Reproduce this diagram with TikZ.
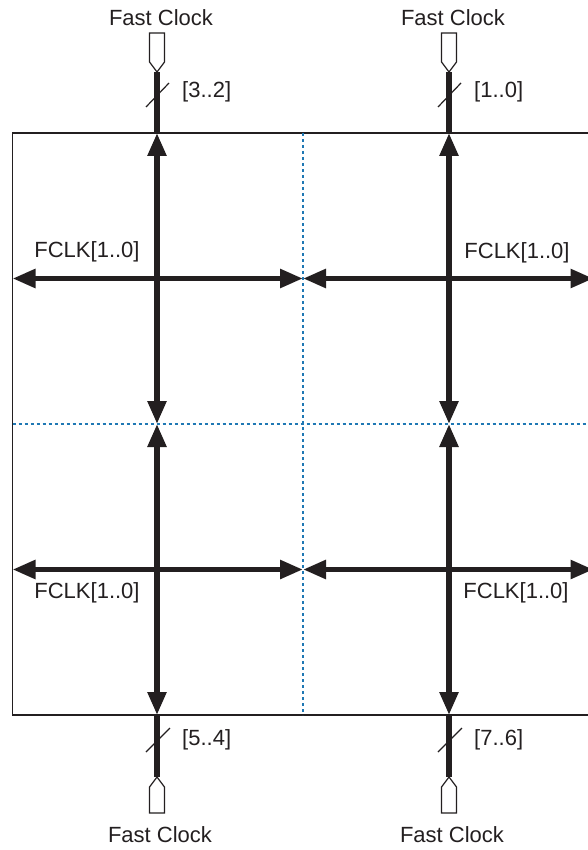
\documentclass[tikz,border=0pt]{standalone}
\usepackage{fontspec}
\setmainfont{Liberation Sans}
\usepackage{tikz}
\usetikzlibrary{arrows.meta}
\definecolor{FclkInk}{HTML}{231F20}
\definecolor{FclkBlue}{HTML}{1F78B4}

\tikzset{
  bus/.style={line width=5.5pt,draw=FclkInk},
  busarrow/.style={bus,{Triangle[length=23pt,width=18pt]}-{Triangle[length=23pt,width=18pt]}},
  divider/.style={draw=FclkBlue,line width=1.3pt,dash pattern=on 3pt off 3pt},
  pinbox/.style={draw=FclkInk,fill=white,line width=1.2pt,line join=miter},
  tick/.style={draw=FclkInk,line width=1.2pt},
  lbl/.style={font=\fontsize{22}{26}\selectfont,text=FclkInk,inner sep=0pt}
}

\begin{document}
\begin{tikzpicture}[x=1pt,y=-1pt]
  \clip (0,0) rectangle (588,850);
  % outline of the device and its quadrants
  \coordinate (nw) at (12.5,133);
  \coordinate (se) at (593.5,715);
  \coordinate (n) at (303,133);
  \coordinate (s) at (303,715);
  \coordinate (w) at (12.5,424);
  \coordinate (e) at (593.5,424);
  \draw[FclkInk,line width=1.5pt] (nw) rectangle (se);
  \draw[divider] (n)--(s);
  \draw[divider] (w)--(e);

  % fast clock columns
  \foreach \x/\nm/\hi/\lo in {157/L/{[3..2]}/{[5..4]},449/R/{[1..0]}/{[7..6]}} {
    \coordinate (\nm top) at (\x,133);
    \coordinate (\nm mid) at (\x,424);
    \coordinate (\nm bot) at (\x,715);
    \coordinate (\nm pinN) at (\x,72);
    \coordinate (\nm pinS) at (\x,777);
    \draw[busarrow] (\nm top)--(\nm mid);
    \draw[busarrow] (\nm mid)--(\nm bot);
    \draw[bus] (\nm pinN)--(\nm top);
    \draw[bus] (\nm bot)--(\nm pinS);
    \draw[pinbox] (\nm pinN) -- ++(-7.5,-10) -- ++(0,-29) -- ++(15,0) -- ++(0,29) -- cycle;
    \draw[pinbox] (\nm pinS) -- ++(-7.5,10) -- ++(0,26) -- ++(15,0) -- ++(0,-26) -- cycle;
    \draw[tick] (\x-11,107)--(\x+12,83);
    \draw[tick] (\x-11,752)--(\x+13,728);
    \node[lbl] (\nm clkN) at (\x+4,18) {Fast Clock};
    \node[lbl] (\nm clkS) at (\x+3,835) {Fast Clock};
    \node[lbl,anchor=west] (\nm bitsN) at (\x+25,92) {\hi};
    \node[lbl,anchor=west] (\nm bitsS) at (\x+25,740) {\lo};
  }

  % fclk rows
  \foreach \y/\nm in {278.5/U,569.5/D} {
    \coordinate (\nm west) at (12.5,\y);
    \coordinate (\nm mid) at (303,\y);
    \coordinate (\nm east) at (593.5,\y);
    \draw[busarrow] (\nm west)--(\nm mid);
    \draw[busarrow] (\nm mid)--(\nm east);
  }
  \node[lbl] (fclkUL) at (87,252) {FCLK[1..0]};
  \node[lbl] (fclkUR) at (517,253) {FCLK[1..0]};
  \node[lbl] (fclkDL) at (87,593) {FCLK[1..0]};
  \node[lbl] (fclkDR) at (516,593) {FCLK[1..0]};
\end{tikzpicture}
\end{document}
